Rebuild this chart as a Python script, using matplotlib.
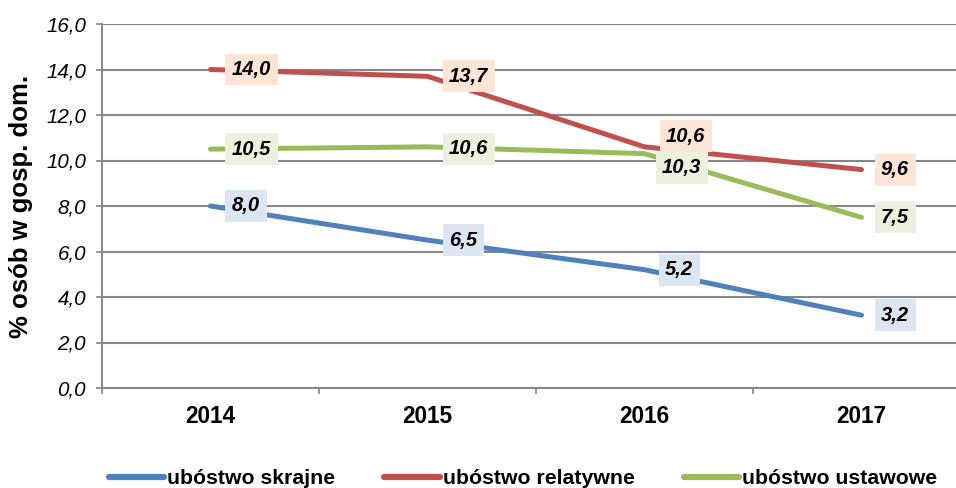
import matplotlib
matplotlib.use("Agg")
import matplotlib.pyplot as plt
from matplotlib.ticker import FixedLocator, NullFormatter

plt.rcParams['font.family'] = ['Liberation Sans', 'DejaVu Sans']

years = ["2014", "2015", "2016", "2017"]
skrajne = [8.0, 6.5, 5.2, 3.2]
relatywne = [14.0, 13.7, 10.6, 9.6]
ustawowe = [10.5, 10.6, 10.3, 7.5]
series_names = ["ubóstwo skrajne", "ubóstwo relatywne", "ubóstwo ustawowe"]
yticks = [0, 2, 4, 6, 8, 10, 12, 14, 16]

colors = ["#4F81BD", "#C0504D", "#9BBB59"]
boxcolors = ["#DCE6F2", "#FCE4D6", "#EBF1DE"]

W, H = 956, 488
fig = plt.figure(figsize=(W/100, H/100), dpi=100)
left, right, top, bottom = 102, 970, 24, 388
ax = fig.add_axes([left/W, 1-bottom/H, (right-left)/W, (bottom-top)/H])

x = list(range(len(years)))
all_series = [skrajne, relatywne, ustawowe]
for vals, c, name in zip(all_series, colors, series_names):
    ax.plot(x, vals, color=c, lw=3.6, solid_capstyle='round', label=name, zorder=3)

# box-left offsets in pixels (dx, dy up) per series per point
offsets = {
    0: [(15, 0), (15, 0), (14, 0), (13, 0)],
    1: [(15, 0), (15, 0), (15, 10.5), (13, 0)],
    2: [(15, 0), (15, -2), (11, -14), (13, 0)],
}
fs_lab = 14.5
pad = 0.32
pad_px = pad * fs_lab / 0.72
for si, (vals, bc) in enumerate(zip(all_series, boxcolors)):
    for i, v in enumerate(vals):
        dx, dy = offsets[si][i]
        ax.annotate(f"{v:.1f}".replace(".", ","), (i, v),
                    xytext=((dx + pad_px)*0.72, dy*0.72), textcoords='offset points',
                    ha='left', va='center', fontsize=fs_lab, fontweight='bold', fontstyle='italic',
                    color='black', zorder=5,
                    bbox=dict(boxstyle=f'square,pad={pad}', fc=bc, ec='none'))

ax.set_xlim(-0.5, 3.5)
ax.set_ylim(0, 16)
ax.set_yticks(yticks)
ax.set_yticklabels([f"{t:.1f}".replace(".", ",") for t in yticks], fontsize=14.8, fontstyle='italic')
ax.yaxis.grid(True, color='#878787', lw=1.5, zorder=0)
ax.set_axisbelow(True)
ax.set_xticks(x)
ax.set_xticklabels(years, fontsize=16.3, fontweight='bold')
ax.tick_params(axis='x', length=0, pad=12)
ax.xaxis.set_minor_locator(FixedLocator([-0.5, 0.5, 1.5, 2.5]))
ax.xaxis.set_minor_formatter(NullFormatter())
ax.tick_params(axis='x', which='minor', length=4.5, color='#878787', width=1.2)
ax.tick_params(axis='y', length=4.5, color='#878787', width=1.2, pad=7)
for s in ['top', 'right']:
    ax.spines[s].set_visible(False)
ax.spines['left'].set_color('#878787')
ax.spines['left'].set_linewidth(1.4)
ax.spines['bottom'].set_color('#878787')
ax.spines['bottom'].set_linewidth(1.5)

fig.text(21/W, 1-206/H, "% osób w gosp. dom.", rotation=90, ha='center', va='center',
         fontsize=18.5, fontweight='bold')

leg = fig.legend(loc='center', bbox_to_anchor=(523/W, 1-479/H), ncol=3, frameon=False,
                 prop=dict(size=15.3, weight='bold'), handlelength=2.6, handletextpad=0.15,
                 columnspacing=2.3, borderpad=0)
for h in leg.get_lines():
    h.set_linewidth(4.5)

fig.savefig("out.png", dpi=100)
